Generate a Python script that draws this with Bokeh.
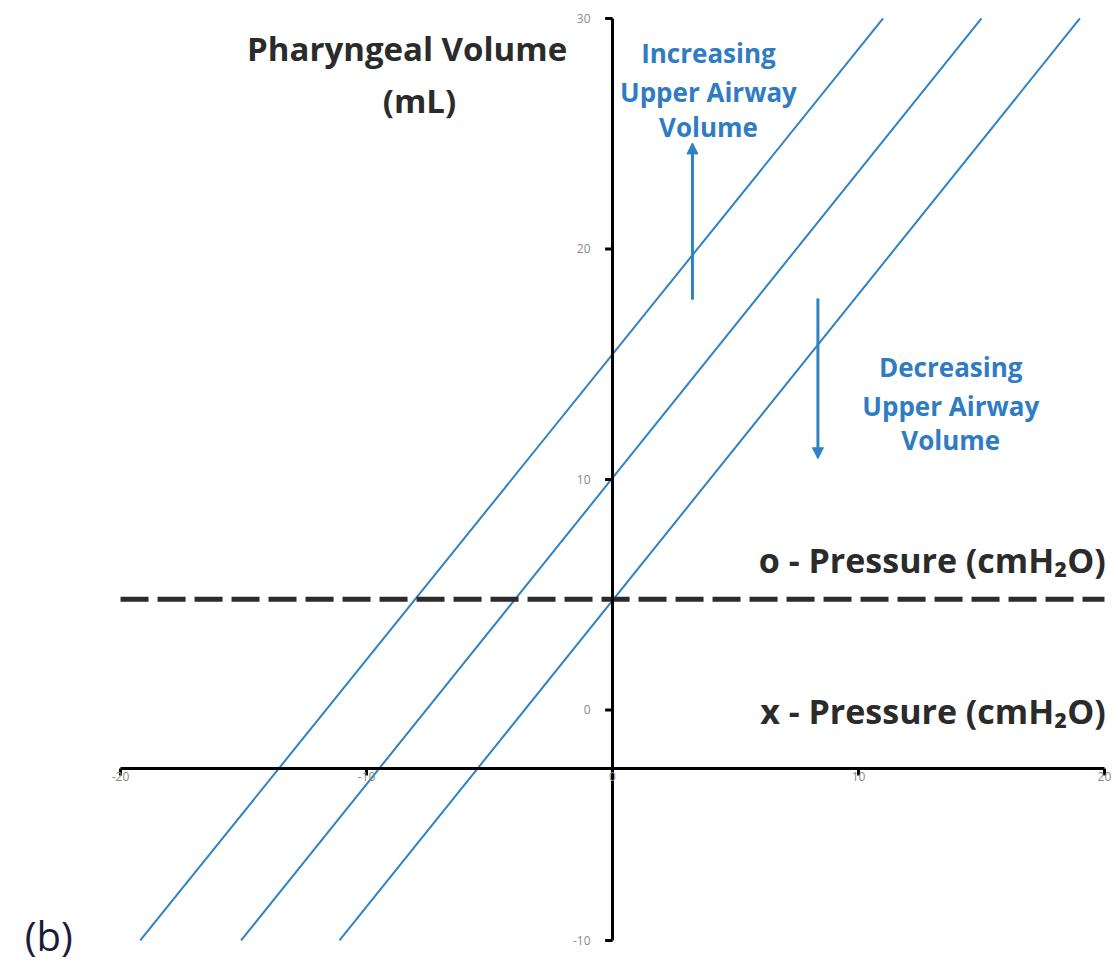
from bokeh.plotting import figure
from bokeh.models import Arrow, NormalHead
from bokeh.core.properties import value
from bokeh.embed import file_html
from bokeh.resources import INLINE

# Compliance lines: pressure (cmH2O) vs pharyngeal volume (mL)
line_pressure = [[-19.2, 11.0], [-15.1, 15.0], [-11.1, 19.0]]
line_volume = [[-10, 30], [-10, 30], [-10, 30]]

# Reference pressure level (dashed)
ref_volume = 4.8
ref_pressure = [-20, 20]

# Axis ticks
x_ticks = [-20, -10, 0, 10, 20]
x_tick_labels = ["-20", "-10", "0", "10", "20"]
y_ticks = [-10, 0, 10, 20, 30]
y_tick_labels = ["-10", "0", "10", "20", "30"]
x_axis_at = -2.54  # level where the pressure axis crosses the volume axis

# Direction arrows (pressure, volume start -> end)
up_arrow = [3.25, 17.8, 3.25, 24.6]
down_arrow = [8.35, 17.85, 8.35, 10.9]

BLUE = "#2F82C4"
TEXT_BLUE = "#2F7CC4"
DARK = "#2b2b2b"
GREY = "#8a8a8a"
FONT = "Open Sans"

p = figure(width=1118, height=971,
           x_range=(-24.88, 20.57), y_range=(-11.345, 30.78),
           x_axis_location=None, y_axis_location=None,
           toolbar_location=None, output_backend="svg",
           min_border=0)
p.grid.visible = False
p.outline_line_color = None
p.background_fill_color = "white"

# Sloped lines
p.multi_line(line_pressure, line_volume, line_color=BLUE, line_width=2)

# Dashed reference line
p.line(ref_pressure, [ref_volume, ref_volume], line_color=DARK,
       line_width=5, line_dash="28 9")

# Volume axis (vertical) and pressure axis (horizontal)
p.segment(x0=[0], y0=[y_ticks[0]], x1=[0], y1=[y_ticks[-1]],
          line_color="black", line_width=3)
p.segment(x0=[x_ticks[0]], y0=[x_axis_at], x1=[x_ticks[-1]], y1=[x_axis_at],
          line_color="black", line_width=3)

# Tick marks
tick_dx = 0.3
tick_dy = 0.3
p.segment(x0=[-tick_dx] * len(y_ticks), y0=y_ticks, x1=[0] * len(y_ticks), y1=y_ticks,
          line_color="black", line_width=3)
p.segment(x0=x_ticks, y0=[x_axis_at] * len(x_ticks), x1=x_ticks,
          y1=[x_axis_at - tick_dy] * len(x_ticks), line_color="black", line_width=3)

# Tick labels
p.text(x=x_ticks, y=[x_axis_at] * len(x_ticks), text=x_tick_labels,
       text_align="center", text_baseline="top", y_offset=3,
       text_font=value(FONT), text_font_size="12px", text_color=GREY)
p.text(x=[0] * len(y_ticks), y=y_ticks, text=y_tick_labels,
       text_align="right", text_baseline="middle", x_offset=-22,
       text_font=value(FONT), text_font_size="12px", text_color=GREY)

# Titles
p.text(x=[-8.35, -7.85], y=[28.7, 26.45], text=["Pharyngeal Volume", "(mL)"],
       text_align="center", text_baseline="middle",
       text_font=value(FONT), text_font_style="bold",
       text_font_size="33px", text_color=DARK)

p.text(x=[20.05, 20.05], y=[6.5, -0.05],
       text=["o - Pressure (cmH\u2082O)", "x - Pressure (cmH\u2082O)"],
       text_align="right", text_baseline="middle",
       text_font=value(FONT), text_font_style="bold",
       text_font_size="34px", text_color=DARK)

# Arrow annotations
p.text(x=[3.9] * 3, y=[28.5, 26.8, 25.3],
       text=["Increasing", "Upper Airway", "Volume"],
       text_align="center", text_baseline="middle",
       text_font=value(FONT), text_font_style="bold",
       text_font_size="26px", text_color=TEXT_BLUE)
p.text(x=[13.75] * 3, y=[14.9, 13.2, 11.7],
       text=["Decreasing", "Upper Airway", "Volume"],
       text_align="center", text_baseline="middle",
       text_font=value(FONT), text_font_style="bold",
       text_font_size="26px", text_color=TEXT_BLUE)

for x0, y0, x1, y1 in (up_arrow, down_arrow):
    p.add_layout(Arrow(end=NormalHead(size=11, fill_color=BLUE, line_color=BLUE),
                       x_start=x0, y_start=y0, x_end=x1, y_end=y1,
                       line_color=BLUE, line_width=3))

# Panel label
p.text(x=[-22.92], y=[-9.8], text=["(b)"], text_align="center",
       text_baseline="middle", text_font=value(FONT),
       text_font_size="40px", text_color="#1c1c3a")

open("out.html", "w").write(file_html(p, INLINE))
